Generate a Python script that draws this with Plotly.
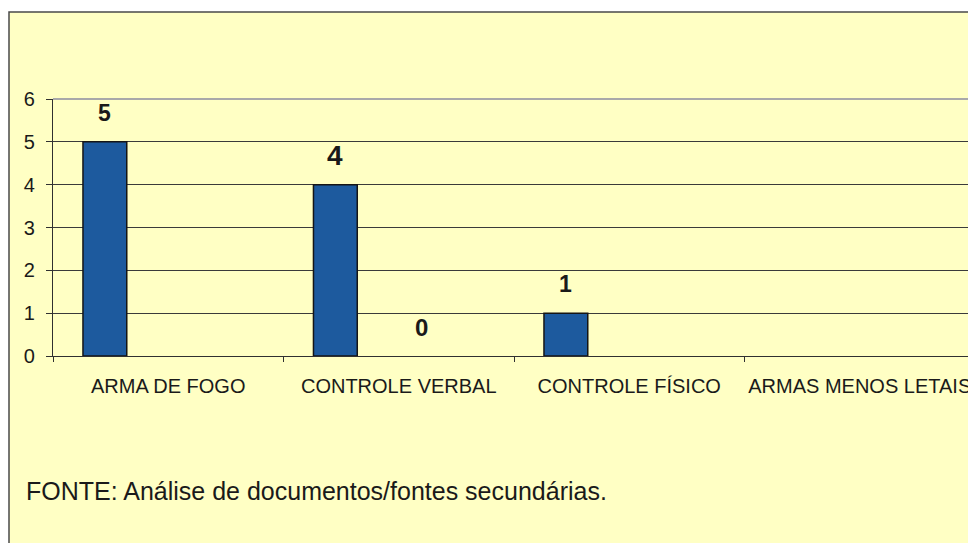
import plotly.graph_objects as go

categories = ['ARMA DE FOGO', 'CONTROLE VERBAL', 'CONTROLE FÍSICO', 'ARMAS MENOS LETAIS']
main_values = [5, 4, 1, None]
second_values = [None, 0, None, None]
label_sizes_main = [23, 28, 23, None]
label_sizes_second = [None, 24, None, None]
y_ticks = [0, 1, 2, 3, 4, 5, 6]
footer = 'FONTE: Análise de documentos/fontes secundárias.'

yellow = '#FFFFC4'
bar_blue = '#1D5A9E'
ink = '#1A1A1A'
font_family = 'Arial, Liberation Sans, sans-serif'

# page body has an 8px margin, so the figure is 8px smaller each way
# and window positions below are converted relative to the plot area
PLOT_L, PLOT_T, PLOT_W, PLOT_H = 53, 99, 922, 257


def px_x(wx):
    return (wx - PLOT_L) / PLOT_W


def px_y(wy):
    return (PLOT_T + PLOT_H - wy) / PLOT_H


fig = go.Figure()

fig.add_trace(
    go.Bar(
        x=categories,
        y=main_values,
        width=0.19,
        offset=-0.37,
        marker=dict(color=bar_blue, line=dict(color='#151515', width=1.5)),
        hoverinfo='x+y',
    )
)

fig.add_trace(
    go.Bar(
        x=categories,
        y=second_values,
        width=0.19,
        offset=0.005,
        marker=dict(color=bar_blue, line=dict(width=0)),
        hoverinfo='x+y',
    )
)

# value labels sit well above the bars, like the original
for series, offset, sizes in [(main_values, -0.275, label_sizes_main), (second_values, 0.1, label_sizes_second)]:
    for i, v in enumerate(series):
        if v is None:
            continue
        fig.add_annotation(
            x=i + offset,
            y=v,
            xref='x',
            yref='y',
            text=f'<b>{v}</b>',
            showarrow=False,
            yshift=29,
            yanchor='middle',
            font=dict(family=font_family, size=sizes[i], color=ink),
        )

fig.add_annotation(
    x=px_x(24),
    y=px_y(491),
    xref='paper',
    yref='paper',
    xanchor='left',
    yanchor='middle',
    text=footer,
    showarrow=False,
    font=dict(family=font_family, size=25, color=ink),
)

# yellow chart area with thin border, white strip top and left
fig.add_shape(
    type='rect',
    xref='paper',
    yref='paper',
    x0=px_x(9),
    x1=px_x(1000),
    y0=px_y(580),
    y1=px_y(12),
    fillcolor=yellow,
    line=dict(color='#4A4A4A', width=1.5),
    layer='below',
)
fig.add_shape(
    type='line', xref='paper', yref='paper',
    x0=0, x1=1, y0=1, y1=1,
    line=dict(color='#8C8CA0', width=1.5), layer='above',
)
fig.add_shape(
    type='line', xref='paper', yref='paper',
    x0=1, x1=1, y0=0, y1=1,
    line=dict(color='#8C8C8C', width=1.5), layer='above',
)

fig.update_layout(
    width=968,
    height=535,
    autosize=False,
    margin=dict(l=PLOT_L - 8, r=1, t=PLOT_T - 8, b=535 - (PLOT_T - 8) - PLOT_H, autoexpand=False),
    paper_bgcolor='white',
    plot_bgcolor='rgba(0,0,0,0)',
    showlegend=False,
    barmode='overlay',
    font=dict(family=font_family, color=ink),
    xaxis=dict(
        type='category',
        categoryorder='array',
        categoryarray=categories,
        range=[-0.5, 3.5],
        automargin=False,
        tickangle=0,
        showgrid=False,
        showline=True,
        linecolor='#303030',
        linewidth=1.2,
        ticks='outside',
        tickson='boundaries',
        ticklen=5,
        tickcolor='#303030',
        ticklabelstandoff=12,
        tickfont=dict(family=font_family, size=20, color=ink),
        fixedrange=True,
    ),
    yaxis=dict(
        range=[0, 6],
        tickvals=y_ticks,
        automargin=False,
        showgrid=True,
        gridcolor='#3A3A3A',
        gridwidth=1.2,
        zeroline=False,
        showline=True,
        linecolor='#303030',
        linewidth=1.2,
        ticks='outside',
        ticklen=6,
        tickcolor='#303030',
        ticklabelstandoff=7,
        tickfont=dict(family=font_family, size=20, color=ink),
        fixedrange=True,
    ),
)

fig.write_html('out.html')
